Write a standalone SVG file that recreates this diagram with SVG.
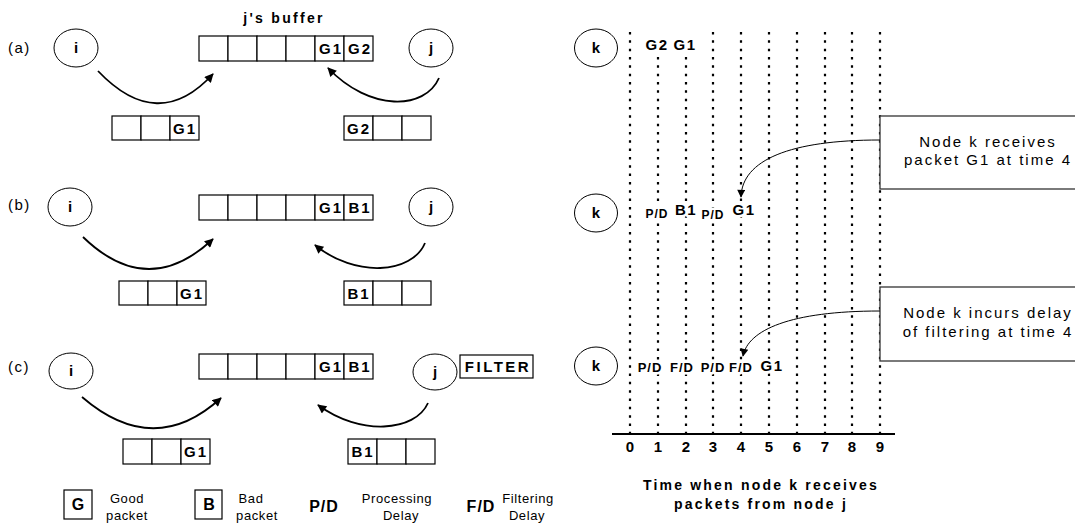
<svg xmlns="http://www.w3.org/2000/svg" width="1075" height="527" viewBox="0 0 1075 527">
<style>
.nd{fill:#fff;stroke:#000;stroke-width:1}
.cell{fill:#fff;stroke:#000;stroke-width:1.2}
.t{font-family:"Liberation Sans",Arial,sans-serif;fill:#000}
.b{font-weight:bold}
.c{text-anchor:middle}
.ct{font-size:15px;font-weight:bold;letter-spacing:2px}
.nl{font-size:15px;font-weight:bold;text-anchor:middle}
.pl{font-size:15px;letter-spacing:1.5px}
.lg{font-size:13px;letter-spacing:0.6px;text-anchor:middle}
.msk{stroke:#fff;stroke-width:5px;paint-order:stroke;stroke-linejoin:round}
.dot{stroke:#000;stroke-width:2.2;stroke-dasharray:2.5 5.83;fill:none}
.arc{fill:none;stroke:#000;stroke-width:1.8;marker-end:url(#ah)}
.thin{fill:none;stroke:#000;stroke-width:1;marker-end:url(#ah2)}
.box{fill:#fff;stroke:#333;stroke-width:1.3}
</style>
<defs>
<marker id="ah" viewBox="0 0 10 10" refX="9" refY="5" markerWidth="11" markerHeight="9" markerUnits="userSpaceOnUse" orient="auto"><path d="M0,0 L10,5 L0,10 z" fill="#000"/></marker>
<marker id="ah2" viewBox="0 0 10 10" refX="9" refY="5" markerWidth="12" markerHeight="8" markerUnits="userSpaceOnUse" orient="auto"><path d="M0,0 L10,5 L0,10 z" fill="#000"/></marker>
<g id="cell3"><rect class="cell" x="0" y="0" width="29" height="24"/><rect class="cell" x="29" y="0" width="29" height="24"/><rect class="cell" x="58" y="0" width="29" height="24"/></g>
<g id="cell6"><rect class="cell" x="0" y="0" width="29" height="25"/><rect class="cell" x="29" y="0" width="29" height="25"/><rect class="cell" x="58" y="0" width="29" height="25"/><rect class="cell" x="87" y="0" width="29" height="25"/><rect class="cell" x="116" y="0" width="29" height="25"/><rect class="cell" x="145" y="0" width="29" height="25"/></g>
</defs>
<rect width="1075" height="527" fill="#fff"/>

<!-- panel labels -->
<g id="labels" class="t pl">
<text x="8" y="53">(a)</text>
<text x="8" y="210">(b)</text>
<text x="8" y="372">(c)</text>
<text class="t b c" x="284" y="23" style="font-size:14px;letter-spacing:2.3px">j's buffer</text>
</g>

<!-- panel (a) -->
<g id="a-i"><ellipse class="nd" cx="76" cy="48" rx="22" ry="19"/><text class="t nl" x="76" y="53">i</text></g>
<g id="a-j"><ellipse class="nd" cx="431" cy="48" rx="22" ry="19"/><text class="t nl" x="431" y="53">j</text></g>
<g id="a-buf"><use href="#cell6" x="199" y="36"/><text class="t ct c" x="331" y="54">G1</text><text class="t ct c" x="360" y="54">G2</text></g>
<g id="a-ibuf"><use href="#cell3" x="112" y="116"/><text class="t ct c" x="185" y="134">G1</text></g>
<g id="a-jbuf"><use href="#cell3" x="344" y="116"/><text class="t ct c" x="359" y="134">G2</text></g>

<!-- panel (b) -->
<g id="b-i"><ellipse class="nd" cx="70" cy="207" rx="22" ry="19"/><text class="t nl" x="70" y="212">i</text></g>
<g id="b-j"><ellipse class="nd" cx="431" cy="207" rx="22" ry="19"/><text class="t nl" x="431" y="212">j</text></g>
<g id="b-buf"><use href="#cell6" x="199" y="195"/><text class="t ct c" x="331" y="213">G1</text><text class="t ct c" x="360" y="213">B1</text></g>
<g id="b-ibuf"><use href="#cell3" x="119" y="281"/><text class="t ct c" x="192" y="299">G1</text></g>
<g id="b-jbuf"><use href="#cell3" x="344" y="281"/><text class="t ct c" x="359" y="299">B1</text></g>

<!-- panel (c) -->
<g id="c-i"><ellipse class="nd" cx="71" cy="371" rx="22" ry="18"/><text class="t nl" x="71" y="376">i</text></g>
<g id="c-j"><ellipse class="nd" cx="435" cy="372" rx="22" ry="18"/><text class="t nl" x="435" y="377">j</text></g>
<g id="c-filter"><rect x="460" y="355" width="73" height="23" fill="#fff" stroke="#000" stroke-width="1.2"/><text class="t ct c" x="498" y="372" style="letter-spacing:2.5px">FILTER</text></g>
<g id="c-buf"><use href="#cell6" x="199" y="354"/><text class="t ct c" x="331" y="372">G1</text><text class="t ct c" x="360" y="372">B1</text></g>
<g id="c-ibuf"><rect class="cell" x="123" y="439" width="29" height="25"/><rect class="cell" x="152" y="439" width="29" height="25"/><rect class="cell" x="181" y="439" width="29" height="25"/><text class="t ct c" x="196" y="457">G1</text></g>
<g id="c-jbuf"><rect class="cell" x="348" y="439" width="29" height="25"/><rect class="cell" x="377" y="439" width="29" height="25"/><rect class="cell" x="406" y="439" width="29" height="25"/><text class="t ct c" x="363" y="457">B1</text></g>

<!-- legend -->
<g id="legend">
<rect class="cell" x="64" y="490" width="28" height="29"/><text class="t b c" x="78" y="510" style="font-size:16px">G</text>
<text class="t lg" x="127" y="503">Good</text><text class="t lg" x="127" y="520">packet</text>
<rect class="cell" x="195" y="490" width="27" height="29"/><text class="t b c" x="209" y="510" style="font-size:16px">B</text>
<text class="t lg" x="251" y="503">Bad</text><text class="t lg" x="257" y="520">packet</text>
<text class="t b c" x="324" y="512" style="font-size:16px;letter-spacing:1px">P/D</text>
<text class="t lg" x="397" y="503">Processing</text><text class="t lg" x="401" y="520">Delay</text>
<text class="t b c" x="481" y="512" style="font-size:16px;letter-spacing:1px">F/D</text>
<text class="t lg" x="528" y="503">Filtering</text><text class="t lg" x="527" y="520">Delay</text>
</g>

<!-- timeline grid -->
<g id="grid">
<line class="dot" x1="630" y1="32" x2="630" y2="434"/>
<line class="dot" x1="658" y1="57" x2="658" y2="434"/>
<line class="dot" x1="686" y1="57" x2="686" y2="434"/>
<line class="dot" x1="713" y1="32" x2="713" y2="434"/>
<line class="dot" x1="741" y1="32" x2="741" y2="434"/>
<line class="dot" x1="769" y1="32" x2="769" y2="434"/>
<line class="dot" x1="797" y1="32" x2="797" y2="434"/>
<line class="dot" x1="825" y1="32" x2="825" y2="434"/>
<line class="dot" x1="852" y1="32" x2="852" y2="434"/>
<line class="dot" x1="880" y1="32" x2="880" y2="434"/>
<line x1="612" y1="434" x2="895" y2="434" stroke="#000" stroke-width="2"/>
<g class="t b c" style="font-size:15px">
<text x="630" y="452">0</text><text x="658" y="452">1</text><text x="686" y="452">2</text><text x="713" y="452">3</text><text x="741" y="452">4</text><text x="769" y="452">5</text><text x="797" y="452">6</text><text x="825" y="452">7</text><text x="852" y="452">8</text><text x="880" y="452">9</text>
</g>
<text class="t b c" x="761" y="490" style="font-size:14px;letter-spacing:2.2px">Time when node k receives</text>
<text class="t b c" x="761" y="509" style="font-size:14px;letter-spacing:2.2px">packets from node j</text>
</g>

<!-- k nodes -->
<g id="k-a"><ellipse class="nd" cx="596" cy="48" rx="21.5" ry="19"/><text class="t nl" x="596" y="53">k</text></g>
<g id="k-b"><ellipse class="nd" cx="596" cy="213" rx="21.5" ry="19"/><text class="t nl" x="596" y="218">k</text></g>
<g id="k-c"><ellipse class="nd" cx="596" cy="366" rx="21.5" ry="19"/><text class="t nl" x="596" y="371">k</text></g>

<!-- row labels -->
<g id="row-a" class="t b c msk" style="font-size:15px;letter-spacing:1.5px">
<text x="657" y="50">G2</text><text x="685" y="50">G1</text>
</g>
<g id="row-b" class="t b c msk">
<text x="657" y="218" style="font-size:12px;letter-spacing:1px">P/D</text>
<text x="686" y="215" style="font-size:15px;letter-spacing:1.5px">B1</text>
<text x="713" y="219" style="font-size:12px;letter-spacing:1px">P/D</text>
<text x="744" y="215" style="font-size:15px;letter-spacing:1.5px">G1</text>
</g>
<g id="row-c" class="t b c msk" style="font-size:13px;letter-spacing:1px">
<text x="650" y="372">P/D</text><text x="682" y="372">F/D</text><text x="713" y="372">P/D</text><text x="741" y="372">F/D</text>
<text x="772" y="371" style="font-size:15px;letter-spacing:1.5px">G1</text>
</g>

<!-- callouts -->
<g id="note1"><rect class="box" x="880" y="116" width="214" height="73"/>
<text class="t c" x="988" y="147" style="font-size:15px;letter-spacing:2px">Node k receives</text>
<text class="t c" x="988" y="165" style="font-size:15px;letter-spacing:2px">packet G1 at time 4</text></g>
<g id="note2"><rect class="box" x="880" y="287" width="214" height="74"/>
<text class="t c" x="988" y="318" style="font-size:15px;letter-spacing:2px">Node k incurs delay</text>
<text class="t c" x="988" y="337" style="font-size:15px;letter-spacing:2px">of filtering at time 4</text></g>

<!-- connectors -->
<g id="connectors">
<path class="arc" d="M98,71 Q158,134 213,74"/>
<path class="arc" d="M439,78 C425,110 370,112 328,68"/>
<path class="arc" d="M83,237 Q148,300 213,239"/>
<path class="arc" d="M425,243 C412,274 355,278 315,245"/>
<path class="arc" d="M82,397 Q154,459 221,398"/>
<path class="arc" d="M428,403 C415,432 360,436 318,405"/>
<path class="thin" d="M880,140 C790,140 742,160 741,197"/>
<path class="thin" d="M880,311 C790,311 748,330 743,356"/>
</g>
</svg>
